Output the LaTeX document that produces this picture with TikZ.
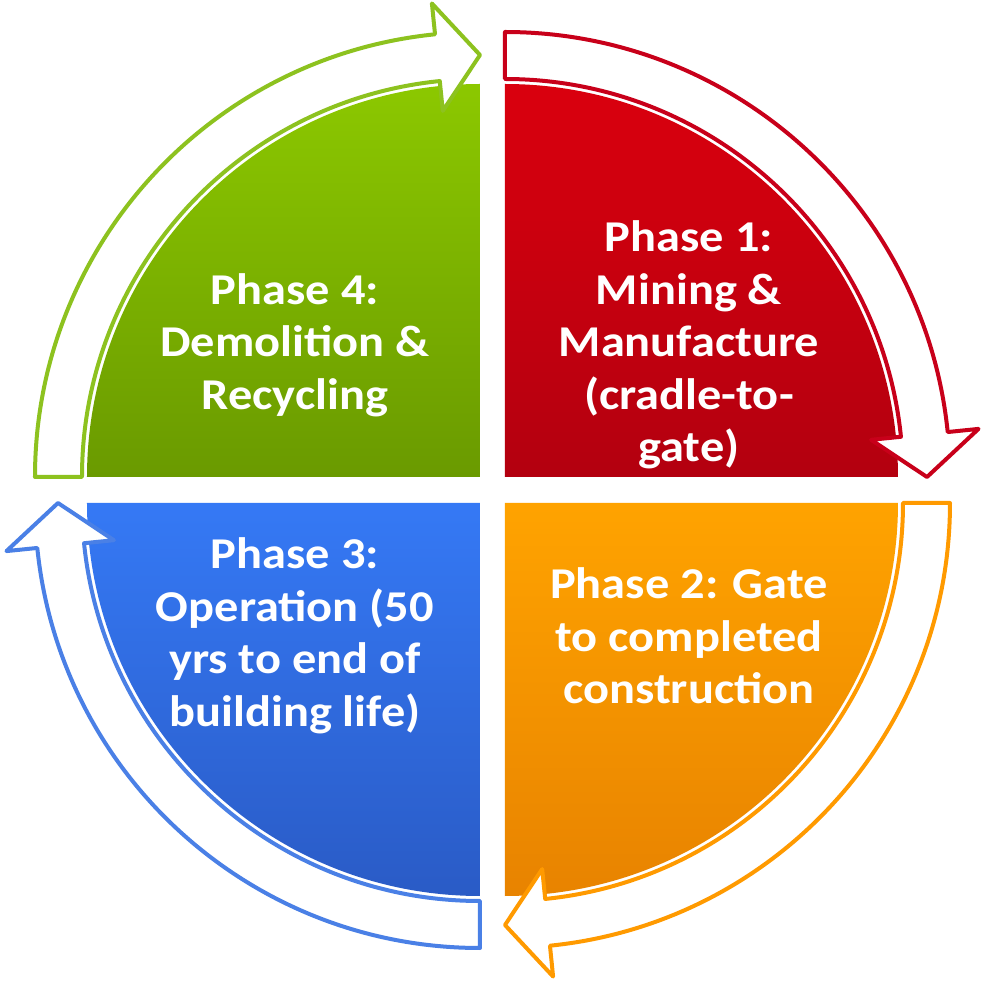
\documentclass[tikz,border=0pt]{standalone}
\usepackage{fontspec}
\setmainfont{Carlito}[FakeStretch=1.1]
\usetikzlibrary{calc}
\definecolor{grnLine}{HTML}{8DC21F}
\definecolor{grnTop}{HTML}{8CC800}
\definecolor{grnBot}{HTML}{6A9A00}
\definecolor{redLine}{HTML}{C8001A}
\definecolor{redTop}{HTML}{DA000E}
\definecolor{redBot}{HTML}{B3000F}
\definecolor{oraLine}{HTML}{FF9A00}
\definecolor{oraTop}{HTML}{FFA300}
\definecolor{oraBot}{HTML}{E88300}
\definecolor{bluLine}{HTML}{4A80E6}
\definecolor{bluTop}{HTML}{3579F5}
\definecolor{bluBot}{HTML}{2A5BC6}
\tikzset{
  arrowline/.style={line width=4pt, line join=round, fill=white},
  phasetext/.style={text=white, align=center, font=\bfseries\fontsize{44}{52.5}\selectfont, inner sep=0pt}
}
\newcommand\cycarrow[4]{%
  \pgfmathsetmacro\hA{#3+5.8}%
  \draw[arrowline, draw=#4] ($(#1)+(#2:398)$) arc[start angle=#2, end angle=\hA, radius=398]
    -- ($(#1)+(\hA:368)$) -- ($(#1)+(#3:422)$) -- ($(#1)+(\hA:476)$) -- ($(#1)+(\hA:445)$)
    arc[start angle=\hA, end angle=#2, radius=445] -- cycle;}
\begin{document}
\begin{tikzpicture}[x=1pt,y=1pt]
\useasboundingbox[fill=white] (-492.5,-492) rectangle (493.5,490);
\coordinate (cR) at (12.5,13);
\coordinate (cG) at (-12.5,13);
\coordinate (cB) at (-12.5,-13);
\coordinate (cO) at (12.5,-13);
% sectors
\path[top color=redTop, bottom color=redBot] (cR) -- ++(0:393) arc[start angle=0, end angle=90, radius=393] -- cycle;
\path[top color=grnTop, bottom color=grnBot] (cG) -- ++(90:393) arc[start angle=90, end angle=180, radius=393] -- cycle;
\path[top color=bluTop, bottom color=bluBot] (cB) -- ++(180:393) arc[start angle=180, end angle=270, radius=393] -- cycle;
\path[top color=oraTop, bottom color=oraBot] (cO) -- ++(270:393) arc[start angle=270, end angle=360, radius=393] -- cycle;
% arrows
\cycarrow{cR}{90}{0}{redLine}
\cycarrow{cO}{0}{-90}{oraLine}
\cycarrow{cB}{-90}{-180}{bluLine}
\cycarrow{cG}{180}{90}{grnLine}
% texts
\node[phasetext] (t1) at (196.5,145) {Phase 1:\\Mining \&\\Manufacture\\(cradle-to-\\gate)};
\node[phasetext] (t2) at (196.5,-146) {Phase 2: Gate\\to completed\\construction};
\node[phasetext] (t3) at (-197.5,-146) {Phase 3:\\Operation (50\\yrs to end of\\building life)};
\node[phasetext] (t4) at (-197.5,145) {Phase 4:\\Demolition \&\\Recycling};
\end{tikzpicture}
\end{document}
